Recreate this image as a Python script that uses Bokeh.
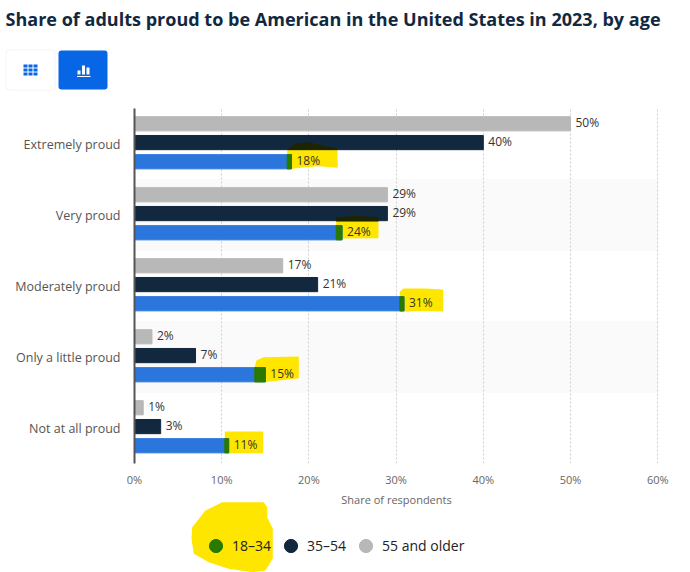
from bokeh.plotting import figure
from bokeh.layouts import column
from bokeh.models import (ColumnDataSource, FactorRange, Range1d, Legend, LegendItem, Label,
                          BoxAnnotation, PolyAnnotation, FixedTicker, PrintfTickFormatter)
from bokeh.transform import dodge
from bokeh.core.properties import value
from bokeh.embed import file_html
from bokeh.resources import INLINE

title = "Share of adults proud to be American in the United States in 2023, by age"
axis_title = "Share of respondents"
categories = ["Extremely proud", "Very proud", "Moderately proud", "Only a little proud", "Not at all proud"]
ages_18_34 = [18, 23.8, 30.9, 15, 10.8]
ages_35_54 = [40, 29, 21, 7, 3]
ages_55_up = [50, 29, 17, 2, 1]
shaded = ["Very proud", "Only a little proud"]
x_ticks = [0, 10, 20, 30, 40, 50, 60]
series_names = ["18\u201334", "35\u201354", "55 and older"]

FONT = "Open Sans"
BLUE, DARK, GRAY, GREEN, YELLOW, OLIVE = "#2a76dd", "#12283f", "#b8b8b8", "#2a7a00", "#ffe600", "#1c2400"
W = 690
TOP_H, MID_H, BOT_H = 108, 385, 79     # stacked: page rows 0-108, 108-493, 493-572
FL, FR, F_H = 134, 658, 355
XMAX = 60.09
PXX = (FR - FL) / XMAX


def blank(h):
    f = figure(width=W, height=h, output_backend="svg", toolbar_location=None, frame_align=False,
               x_range=Range1d(0, W), y_range=Range1d(h, 0), x_axis_location=None, y_axis_location=None,
               min_border=0, outline_line_color=None, background_fill_color="white", border_fill_color="white")
    f.grid.visible = False
    return f


def poly(f, pts, color, level, dy=0):
    f.add_layout(PolyAnnotation(xs=[a for a, _ in pts], ys=[b - dy for _, b in pts],
                                xs_units="canvas", ys_units="canvas",
                                fill_color=color, fill_alpha=1, line_color=None, level=level))


# ---- header: title and view-switch buttons
top = blank(TOP_H)
top.add_layout(Label(x=5, y=18, x_units="canvas", y_units="canvas", text=title, text_font=FONT,
                     text_font_size="18.05px", text_font_style="bold", text_color="#12283f",
                     text_baseline="middle"))


def box(l, t, r, b, color, radius=0, line=None):
    top.add_layout(BoxAnnotation(left=l, right=r, top=t, bottom=b,
                                 left_units="canvas", right_units="canvas", top_units="canvas", bottom_units="canvas",
                                 fill_color=color, fill_alpha=1, line_color=line, border_radius=radius))


box(5, 49, 55, 90, "#f4f4f4", 4)
box(6, 50, 54, 89, "white", 3)
box(58, 50, 107, 89, "#0666e5", 3)
for gx in (23, 28, 33):
    for gy in (64, 68, 72):
        box(gx, gy, gx + 4, gy + 3, "#0666e5")
box(77, 70, 80, 74, "white")
box(81.5, 65, 84.5, 74, "white")
box(86, 67, 89, 74, "white")
box(76.5, 75.5, 90, 76.5, "white")

# ---- chart
p = figure(width=W, height=MID_H, output_backend="svg", toolbar_location=None, frame_align=False,
           y_range=FactorRange(factors=categories[::-1]), x_range=Range1d(0, XMAX),
           min_border_left=FL, min_border_top=0, min_border_right=W - FR, min_border_bottom=MID_H - F_H,
           outline_line_color=None, background_fill_color="white", border_fill_color="white")
p.y_range.range_padding = 0
p.y_range.factor_padding = 0

p.xaxis.ticker = FixedTicker(ticks=x_ticks)
p.xaxis.formatter = PrintfTickFormatter(format="%d%%")
p.xaxis.axis_line_color = None
p.xaxis.major_tick_line_color = None
p.xaxis.major_tick_out = 0
p.xaxis.major_tick_in = 0
p.xaxis.minor_tick_line_color = None
p.xaxis.major_label_text_font = FONT
p.xaxis.major_label_text_font_size = "11px"
p.xaxis.major_label_text_color = "#666666"
p.xaxis.major_label_standoff = 8
p.yaxis.axis_line_color = "#555555"
p.yaxis.axis_line_width = 2
p.yaxis.major_tick_line_color = None
p.yaxis.major_tick_out = 0
p.yaxis.major_tick_in = 0
p.yaxis.minor_tick_line_color = None
p.yaxis.major_label_text_font = FONT
p.yaxis.major_label_text_font_size = "12.5px"
p.yaxis.major_label_text_color = "#555555"
p.yaxis.major_label_standoff = 14
p.ygrid.grid_line_color = None
p.xgrid.grid_line_color = "#cfcfcf"
p.xgrid.grid_line_dash = "2 2"
p.xgrid.grid_line_width = 1

p.hbar(y=shaded, left=0, right=XMAX, height=1, color="#fafafa", level="image")

# marker highlights (pen strokes present on the reference), page coordinates
YELLOWS = [
    [(286.7, 149), (337, 149), (337.3, 167.3), (318, 165.7), (305, 166.7), (291.7, 168.3), (286.7, 169)],
    [(335.7, 221), (378, 221), (378, 237.7), (335.7, 238)],
    [(399.3, 291), (403, 288), (425, 288), (442.7, 289), (442.7, 311), (420, 310.5), (399.3, 311.5)],
    [(254.3, 381.7), (254.3, 366), (256, 360), (263, 356.7), (298.3, 356), (298.3, 377.7), (263.3, 381.7)],
    [(224.3, 431), (262.7, 431), (262.7, 452.7), (224.3, 452.7)],
]
for pts in YELLOWS:
    poly(p, pts, YELLOW, "underlay", dy=TOP_H)

src = ColumnDataSource(dict(
    cat=categories, a=ages_18_34, b=ages_35_54, c=ages_55_up,
    la=[f"{v:.0f}%" for v in ages_18_34], lb=[f"{v:.0f}%" for v in ages_35_54], lc=[f"{v:.0f}%" for v in ages_55_up],
    tip=[(px - FL) / PXX for px in (286.7, 335.7, 399.3, 254.3, 224.3)],
))
OFF = {"c": 0.285, "b": 0.02, "a": -0.25}
BH = 0.2
ya = dodge("cat", OFF["a"], range=p.y_range)
yb = dodge("cat", OFF["b"], range=p.y_range)
yc = dodge("cat", OFF["c"], range=p.y_range)
p.hbar(y=yc, left=0, right="c", height=BH, color=GRAY, source=src)
p.hbar(y=yb, left=0, right="b", height=BH, color=DARK, source=src)
p.hbar(y=ya, left=0, right="a", height=BH, color=BLUE, source=src)
p.hbar(y=ya, left="tip", right="a", height=BH, color=GREEN, source=src)

poly(p, [(286.7, 149.5), (295, 143.3), (308, 141.7), (336.7, 148.3), (336.7, 149.5)], OLIVE, "annotation", dy=TOP_H)
poly(p, [(335.7, 221), (335.7, 217), (355, 215.5), (378, 216.7), (378, 221)], OLIVE, "annotation", dy=TOP_H)

for y, k, lab in ((yc, "c", "lc"), (yb, "b", "lb"), (ya, "a", "la")):
    p.text(x=k, y=y, text=lab, source=src, x_offset=5, y_offset=-1, text_baseline="middle", text_align="left",
           text_font=value(FONT), text_font_size="12px", text_color="#333333", level="overlay")

# ---- footer: axis title and legend with its highlight
bot = blank(BOT_H)
BOT_Y = TOP_H + MID_H
poly(bot, [(191.7, 526.7), (205, 510), (221.7, 501.7), (263.3, 501.7), (266.7, 506.7), (266.7, 516.7), (272.3, 528.3),
           (272.3, 558), (265, 570), (251.7, 571.7), (228, 568.3), (208.3, 561.7), (193.3, 553.3), (191, 538.3)],
     YELLOW, "underlay", dy=BOT_Y)
bot.add_layout(Label(x=396, y=499 - BOT_Y, x_units="canvas", y_units="canvas", text=axis_title, text_font=FONT,
                     text_font_size="11px", text_color="#666666", text_align="center", text_baseline="middle"))
# legend keys: the markers sit off view, only their legend entries show
r1 = bot.scatter(x=[-100], y=[-100], marker="circle", color=GREEN)
r2 = bot.scatter(x=[-100], y=[-100], marker="circle", color=DARK)
r3 = bot.scatter(x=[-100], y=[-100], marker="circle", color=GRAY)
legend = Legend(items=[LegendItem(label=series_names[i], renderers=[r]) for i, r in enumerate((r1, r2, r3))],
                orientation="horizontal", location=(199, 10), background_fill_alpha=0, border_line_color=None,
                glyph_width=33, glyph_height=33, label_standoff=0, spacing=3, padding=0, margin=0,
                label_text_font=FONT, label_text_font_size="14px", label_text_color="#222222")
bot.add_layout(legend, "center")

page = column(top, p, bot, spacing=0)
open("out.html", "w").write(file_html(page, INLINE))
